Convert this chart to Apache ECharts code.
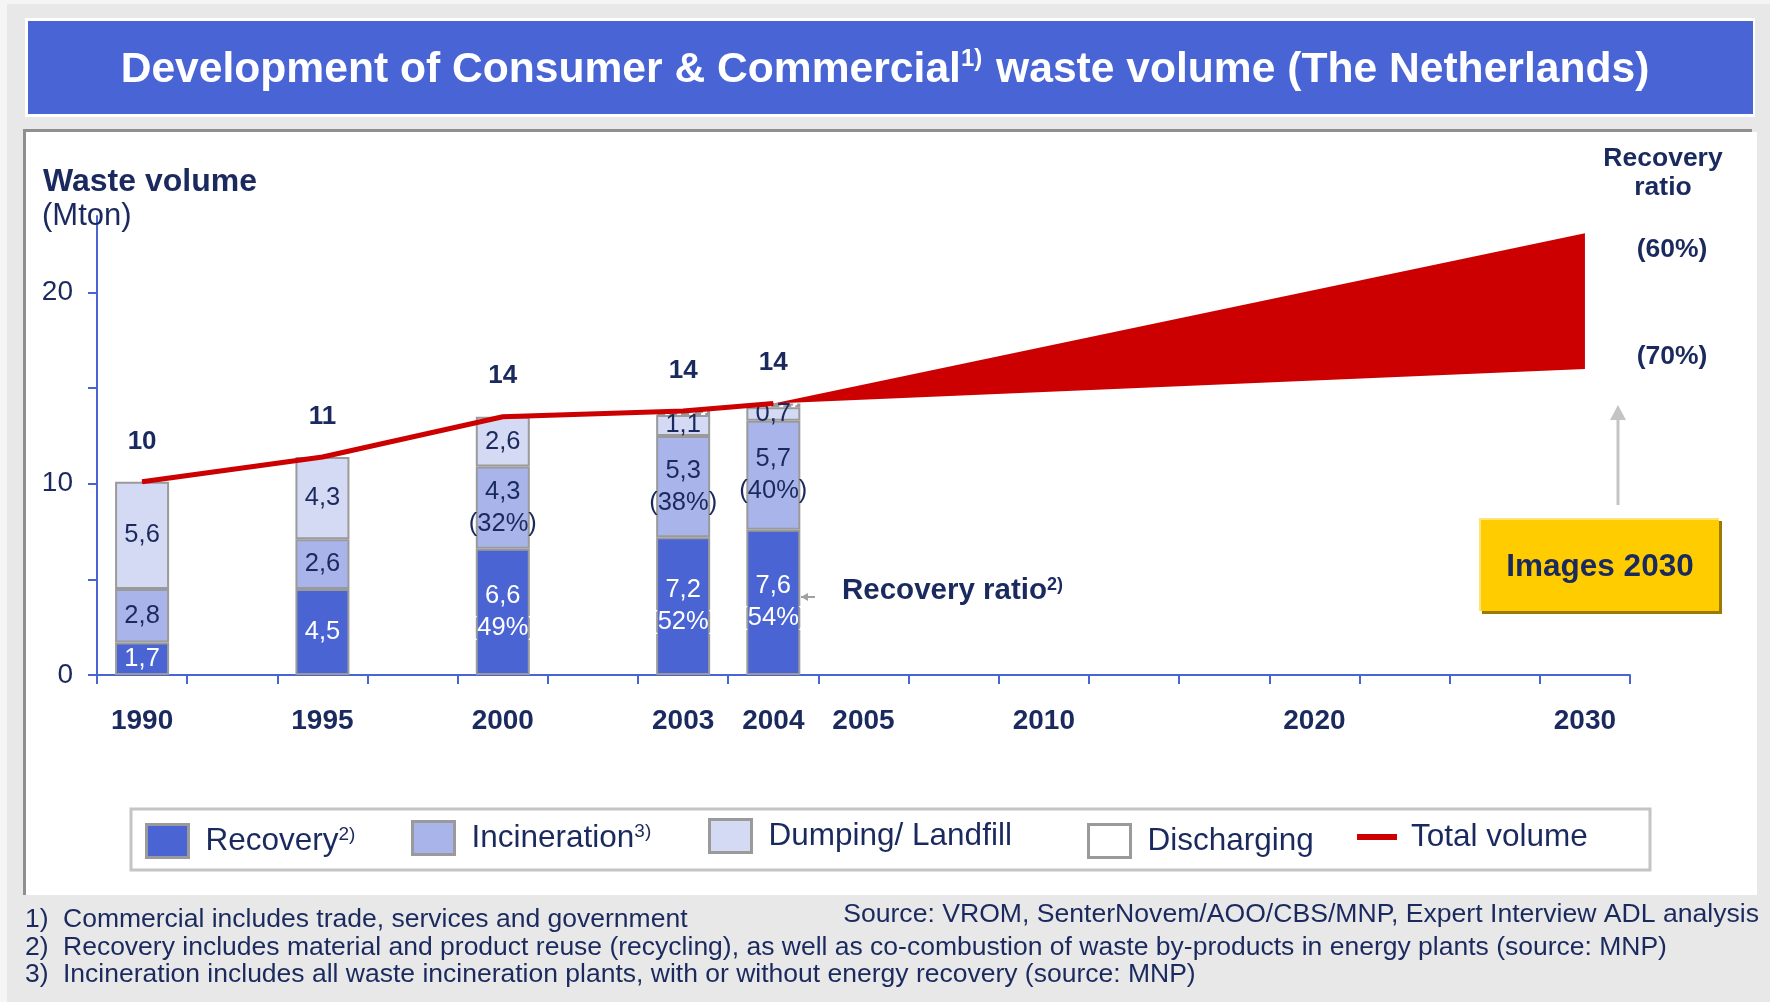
<!DOCTYPE html>
<html>
<head>
<meta charset="utf-8">
<script src="https://cdn.jsdelivr.net/npm/echarts@6.0.0/dist/echarts.min.js"></script>
<style>
html,body{margin:0;padding:0;background:#e8e8e8;}
#chart{width:1770px;height:1002px;}
</style>
</head>
<body>
<div id="chart"></div>
<script>
// ---------------- DATA ----------------
const axisSlots = ['1990','','1995','','2000','','2003','2004','2005','','2010','','','2020','','','2030'];
const barYears = ['1990','1995','2000','2003','2004'];
const recovery = [1.7, 4.5, 6.6, 7.2, 7.6];
const recoveryShare = [null, null, '49%', '52%', '54%'];
const incineration = [2.8, 2.6, 4.3, 5.3, 5.7];
const incinerationShare = [null, null, '32%', '38%', '40%'];
const landfill = [5.6, 4.3, 2.6, 1.1, 0.7];
const discharging = [null, null, null, 0.2, 0.2];
const totalVolume = [10.1, 11.4, 13.5, 13.8, 14.2];
const totalLabels = ['10', '11', '14', '14', '14'];
const projectionYears = ['2004', '2030'];
const projectionLow = [14.2, 16.0];   // 70% recovery ratio
const projectionHigh = [14.2, 23.1];  // 60% recovery ratio
const projectionRatioLabels = ['(60%)', '(70%)'];
const yTickValues = [0, 5, 10, 15, 20];
const yLabelValues = [0, 10, 20];

// ---------------- STYLE ----------------
const FONT = 'Liberation Sans, Arial, sans-serif';
const NAVY = '#1b2a5e';
const AXIS_BLUE = '#4a64d4';
const C_REC = '#4a64d4', C_INC = '#a9b5ea', C_DUMP = '#d5daf4', C_DIS = '#ffffff';
const RED = '#cc0000';
const BORDER = '#9a9a9a';

const slotIndex = y => axisSlots.indexOf(y);
const slotToBar = {};
barYears.forEach((y, i) => { slotToBar[slotIndex(y)] = i; });
function spread(values) {
  const arr = axisSlots.map(() => null);
  barYears.forEach((y, i) => { arr[slotIndex(y)] = values[i]; });
  return arr;
}
const fmt = v => v.toFixed(1).replace('.', ',');
function barLabel(shares) {
  return p => {
    if (p.value == null) return '';
    const i = slotToBar[p.dataIndex];
    const s = shares ? shares[i] : null;
    return s ? fmt(p.value) + '\n(' + s + ')' : fmt(p.value);
  };
}
const xCats = axisSlots.map((s, i) => s === '' ? '_' + i : s);

function barSeries(name, values, color, labelColor, shares, dashed) {
  return {
    name, type: 'bar', stack: 'waste', barWidth: 54,
    data: spread(values),
    itemStyle: { color, borderColor: BORDER, borderWidth: 2, borderType: dashed ? 'dashed' : 'solid' },
    label: {
      show: labelColor != null, position: 'inside', color: labelColor, fontFamily: FONT,
      fontSize: 25.5, lineHeight: 32, formatter: barLabel(shares)
    },
    emphasis: { disabled: true },
    z: 2
  };
}

function legendItem(name, left, text, opts) {
  return Object.assign({
    data: [{ name, icon: 'rect' }], left, top: 823, padding: 0,
    itemWidth: 42, itemHeight: 33, selectedMode: false,
    itemStyle: { borderColor: BORDER, borderWidth: 3, borderType: 'solid' },
    formatter: () => text,
    textStyle: {
      padding: [0, 0, 0, 12],
      rich: {
        a: { fontSize: 31.5, color: NAVY, fontFamily: FONT },
        s: { fontSize: 19, color: NAVY, fontFamily: FONT, verticalAlign: 'top', padding: [0, 0, 13, 0] }
      }
    }
  }, opts || {});
}

const gText = (text, x, y, size, weight, align, extra) => Object.assign({
  type: 'text', x, y, z: 20,
  style: { text, fill: NAVY, fontFamily: FONT, fontSize: size, fontWeight: weight, align, verticalAlign: 'middle' }
}, extra || {});

const chart = echarts.init(document.getElementById('chart'), null, { renderer: 'canvas' });

const option = {
  animation: false,
  backgroundColor: '#e8e8e8',
  title: {
    text: '{a|Development of Consumer & Commercial}{s|1)}{a| waste volume (The Netherlands)}',
    left: 'center', top: 40, padding: [5, 0, 5, 22],
    textStyle: {
      rich: {
        a: { fontSize: 42.6, fontWeight: 'bold', color: '#ffffff', fontFamily: FONT, lineHeight: 50 },
        s: { fontSize: 24, fontWeight: 'bold', color: '#ffffff', fontFamily: FONT, verticalAlign: 'top', lineHeight: 30, padding: [2, 2, 0, 0] }
      }
    }
  },
  grid: { left: 97, right: 140, top: 216, bottom: 327, containLabel: false },
  xAxis: {
    type: 'category', data: xCats, boundaryGap: true,
    axisLine: { show: true, lineStyle: { color: AXIS_BLUE, width: 2 } },
    axisTick: { show: true, interval: 0, length: 9, lineStyle: { color: AXIS_BLUE, width: 2 } },
    axisLabel: {
      interval: 0, margin: 32, fontSize: 28, fontWeight: 'bold', color: NAVY, fontFamily: FONT,
      formatter: v => v.charAt(0) === '_' ? '' : v
    },
    splitLine: { show: false }
  },
  yAxis: {
    type: 'value', min: 0, max: 24, interval: 5,
    axisLine: { show: true, lineStyle: { color: AXIS_BLUE, width: 2 } },
    axisTick: { show: true, length: 9, customValues: yTickValues, lineStyle: { color: AXIS_BLUE, width: 2 } },
    axisLabel: { customValues: yLabelValues, margin: 24, fontSize: 28, color: NAVY, fontFamily: FONT },
    splitLine: { show: false }
  },
  legend: [
    legendItem('Recovery', 145, '{a|Recovery}{s|2)}'),
    legendItem('Incineration', 411, '{a|Incineration}{s|3)}', { top: 820 }),
    legendItem('Dumping/ Landfill', 708, '{a|Dumping/ Landfill}', { top: 818 }),
    legendItem('Discharging', 1087, '{a|Discharging}'),
    legendItem('Total volume', 1357, '{a|Total volume}', {
      top: 821, itemWidth: 40, itemHeight: 6,
      itemStyle: { color: RED, borderWidth: 0 },
      textStyle: { padding: [0, 0, 0, 9], rich: { a: { fontSize: 31.5, color: NAVY, fontFamily: FONT } } }
    })
  ],
  series: [
    barSeries('Recovery', recovery, C_REC, '#ffffff', recoveryShare),
    barSeries('Incineration', incineration, C_INC, NAVY, incinerationShare),
    barSeries('Dumping/ Landfill', landfill, C_DUMP, NAVY, null),
    barSeries('Discharging', discharging, C_DIS, null, null, true),
    {
      name: 'Projection', type: 'custom', z: 4, silent: true,
      encode: { x: [0, 2], y: [1, 3, 4] },
      data: [[slotIndex(projectionYears[0]), projectionHigh[0], slotIndex(projectionYears[1]), projectionHigh[1], projectionLow[1]]],
      renderItem: (params, api) => {
        const p0 = api.coord([api.value(0), api.value(1)]);
        const p1 = api.coord([api.value(2), api.value(3)]);
        const p2 = api.coord([api.value(2), api.value(4)]);
        return { type: 'polygon', shape: { points: [p0, p1, p2] }, style: { fill: RED } };
      }
    },
    {
      name: 'Total volume', type: 'line', z: 5,
      data: spread(totalVolume), connectNulls: true,
      symbol: 'circle', symbolSize: 1, showSymbol: true,
      lineStyle: { color: RED, width: 5 }, itemStyle: { color: RED },
      label: {
        show: true, position: 'top', distance: 27, fontSize: 26, fontWeight: 'bold', color: NAVY, fontFamily: FONT,
        formatter: p => p.value == null ? '' : totalLabels[slotToBar[p.dataIndex]]
      },
      emphasis: { disabled: true }
    }
  ],
  graphic: [
    // light outer edge
    { type: 'rect', z: -30, shape: { x: 0, y: 0, width: 1770, height: 4 }, style: { fill: '#f5f5f5' } },
    { type: 'rect', z: -30, shape: { x: 0, y: 0, width: 7, height: 1002 }, style: { fill: '#f5f5f5' } },
    // title banner
    { type: 'rect', z: -20, shape: { x: 25, y: 18, width: 1730, height: 99 }, style: { fill: '#ffffff' } },
    { type: 'rect', z: -19, shape: { x: 28, y: 21, width: 1725, height: 93 }, style: { fill: '#4965d5' } },
    // chart panel
    { type: 'rect', z: -20, shape: { x: 23, y: 129, width: 1729, height: 766 }, style: { fill: '#8f8f8f' } },
    { type: 'rect', z: -19, shape: { x: 26, y: 132, width: 1731, height: 763 }, style: { fill: '#ffffff' } },
    // legend box
    { type: 'rect', z: -18, shape: { x: 131, y: 809, width: 1519, height: 61 }, style: { fill: '#ffffff', stroke: '#c4c4c4', lineWidth: 3 } },
    // axis title
    gText('Waste volume', 43, 182, 32, 'bold', 'left'),
    gText('(Mton)', 42, 216, 31, 'normal', 'left', { z: 1 }),
    // right-hand labels
    gText('Recovery', 1663, 159, 26.5, 'bold', 'center'),
    gText('ratio', 1663, 188, 26.5, 'bold', 'center'),
    gText(projectionRatioLabels[0], 1672, 250, 26.5, 'bold', 'center'),
    gText(projectionRatioLabels[1], 1672, 357, 26.5, 'bold', 'center'),
    // recovery ratio annotation
    { type: 'line', z: 20, shape: { x1: 801, y1: 597, x2: 815, y2: 597 }, style: { stroke: '#a0a0a0', lineWidth: 2 } },
    { type: 'polygon', z: 20, shape: { points: [[801, 597], [808, 593], [808, 601]] }, style: { fill: '#a0a0a0' } },
    {
      type: 'text', x: 842, y: 591, z: 20,
      style: {
        text: '{a|Recovery ratio}{s|2)}', verticalAlign: 'middle', align: 'left',
        rich: {
          a: { fontSize: 29.5, fontWeight: 'bold', fill: NAVY, fontFamily: FONT },
          s: { fontSize: 18, fontWeight: 'bold', fill: NAVY, fontFamily: FONT, verticalAlign: 'top', padding: [0, 0, 10, 0] }
        }
      }
    },
    // Images 2030 arrow and box
    { type: 'line', z: 20, shape: { x1: 1618, y1: 505, x2: 1618, y2: 418 }, style: { stroke: '#c4c4c4', lineWidth: 3 } },
    { type: 'polygon', z: 20, shape: { points: [[1610, 420], [1626, 420], [1618, 405]] }, style: { fill: '#c4c4c4' } },
    { type: 'rect', z: 20, shape: { x: 1482, y: 521, width: 240, height: 93 }, style: { fill: '#9c7a00' } },
    { type: 'rect', z: 21, shape: { x: 1479, y: 518, width: 240, height: 93 }, style: { fill: '#ffe27a' } },
    { type: 'rect', z: 22, shape: { x: 1481, y: 520, width: 238, height: 91 }, style: { fill: '#ffcc00' } },
    gText('Images 2030', 1600, 567, 31.5, 'bold', 'center', { z: 23 }),
    // footnotes
    gText('1)', 25, 920, 26.5, 'normal', 'left'),
    gText('Commercial includes trade, services and government', 63, 920, 26.5, 'normal', 'left'),
    gText('2)', 25, 948, 26.5, 'normal', 'left'),
    gText('Recovery includes material and product reuse (recycling), as well as co-combustion of waste by-products in energy plants (source: MNP)', 63, 948, 26.5, 'normal', 'left'),
    gText('3)', 25, 975, 26.5, 'normal', 'left'),
    gText('Incineration includes all waste incineration plants, with or without energy recovery (source: MNP)', 63, 975, 26.5, 'normal', 'left'),
    gText('Source: VROM, SenterNovem/AOO/CBS/MNP, Expert Interview ADL analysis', 1759, 915, 26.6, 'normal', 'right')
  ]
};
chart.setOption(option);
</script>
</body>
</html>
